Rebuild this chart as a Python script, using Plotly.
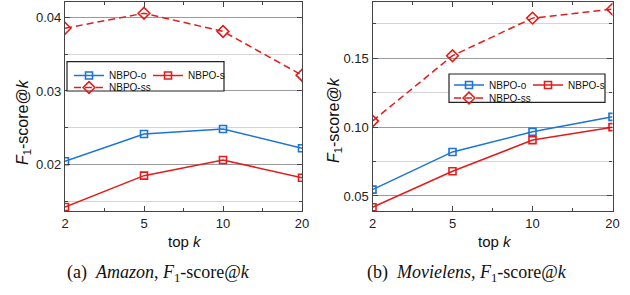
import plotly.graph_objects as go

# ---------------- data ----------------
top_k = ["2", "5", "10", "20"]

amazon_nbpo_o = [0.02044, 0.02415, 0.02483, 0.02220]
amazon_nbpo_s = [0.01422, 0.01848, 0.02061, 0.01820]
amazon_nbpo_ss = [0.03853, 0.04057, 0.03810, 0.03215]

movie_nbpo_o = [0.0546, 0.0820, 0.0966, 0.1075]
movie_nbpo_s = [0.0418, 0.0680, 0.0906, 0.1000]
movie_nbpo_ss = [0.1044, 0.1519, 0.1792, 0.1857]

series_names = ["NBPO-o", "NBPO-s", "NBPO-ss"]

# ---------------- styles ----------------
W, H = 630, 295
BLUE = "#1c74d4"
RED = "#e31c1c"
SANS = "Liberation Sans, Arial, sans-serif"
SERIF = "Liberation Serif, Times New Roman, serif"
FRAME = "#444444"

def px_x(x):
    return x / W

def px_y(y):
    return 1 - y / H

xpos = list(range(len(top_k)))

fig = go.Figure()

styles = [
    dict(color=BLUE, symbol="square-open", size=7, dash="solid", lw=34),
    dict(color=RED, symbol="square-open", size=7, dash="solid", lw=None),
    dict(color=RED, symbol="diamond-open", size=9, dash="7px,4px", lw=None),
]

panels = [
    ("x", "y", [amazon_nbpo_o, amazon_nbpo_s, amazon_nbpo_ss], ("legend", "legend2")),
    ("x2", "y2", [movie_nbpo_o, movie_nbpo_s, movie_nbpo_ss], ("legend3", "legend4")),
]

for xa, ya, vals, (lg_row1, lg_row2) in panels:
    for i, (name, v, st) in enumerate(zip(series_names, vals, styles)):
        kw = {}
        if st["lw"]:
            kw["legendwidth"] = st["lw"]
        fig.add_trace(go.Scatter(
            x=xpos, y=v, name=name, xaxis=xa, yaxis=ya,
            mode="lines+markers",
            line=dict(color=st["color"], width=1.5, dash=st["dash"]),
            marker=dict(symbol=st["symbol"], size=st["size"], color=st["color"],
                        line=dict(color=st["color"], width=1.6)),
            legend=lg_row1 if i < 2 else lg_row2,
            showlegend=True, **kw,
        ))

common_x = dict(
    range=[0, 3], tickvals=xpos, ticktext=top_k,
    ticks="inside", ticklen=5, tickwidth=1, tickcolor=FRAME,
    minor=dict(dtick=0.5, tick0=0, ticks="inside", ticklen=3, tickcolor=FRAME),
    showline=True, linecolor=FRAME, linewidth=1.2, mirror="ticks",
    showgrid=False, zeroline=False, automargin=False,
    tickfont=dict(family=SANS, size=13, color="#222"),
    fixedrange=True,
)

def yaxis(rng, dtick, mdtick):
    return dict(
        range=rng, dtick=dtick, tick0=0, tickformat=".2f",
        ticks="inside", ticklen=5, tickwidth=1, tickcolor=FRAME,
        minor=dict(dtick=mdtick, tick0=0, ticks="inside", ticklen=3, tickcolor=FRAME,
                   showgrid=True, gridcolor="#d4d4d4", gridwidth=1),
        showline=True, linecolor=FRAME, linewidth=1.2, mirror="ticks",
        showgrid=True, gridcolor="#9a9a9a", gridwidth=1,
        zeroline=False, automargin=False,
        tickfont=dict(family=SANS, size=13, color="#222"),
        fixedrange=True,
    )

y_top, y_bot = 2, 211

legend_common = dict(
    orientation="h", xanchor="left", yanchor="top",
    bgcolor="rgba(0,0,0,0)", borderwidth=0,
    font=dict(family=SANS, size=10, color="#111"),
    itemwidth=30, traceorder="normal",
)

fig.update_layout(
    width=W, height=H,
    margin=dict(l=0, r=0, t=0, b=0, pad=0, autoexpand=False),
    paper_bgcolor="white", plot_bgcolor="white",
    xaxis=dict(domain=[px_x(65), px_x(302)], anchor="y", **common_x),
    yaxis=dict(domain=[px_y(y_bot), px_y(y_top)], anchor="x",
               **yaxis([0.01367, 0.0421], 0.01, 0.005)),
    xaxis2=dict(domain=[px_x(372.5), px_x(612.5)], anchor="y2", **common_x),
    yaxis2=dict(domain=[px_y(y_bot), px_y(y_top)], anchor="x2",
                **yaxis([0.0391, 0.1909], 0.05, 0.025)),
    legend=dict(x=px_x(69), y=px_y(61), **legend_common),
    legend2=dict(x=px_x(69), y=px_y(73), **legend_common),
    legend3=dict(x=px_x(449), y=px_y(70.5), **legend_common),
    legend4=dict(x=px_x(449), y=px_y(83.5), **legend_common),
    showlegend=True,
)

# legend frames
for (x0, y0, x1, y1) in [(67, 61.7, 224, 91), (449, 74, 605, 102.3)]:
    fig.add_shape(type="rect", xref="paper", yref="paper",
                  x0=px_x(x0), x1=px_x(x1), y0=px_y(y1), y1=px_y(y0),
                  line=dict(color="#222", width=1.2), fillcolor="white", layer="above")

ytitle = "<i>F</i><sub>1</sub>-score@<i>k</i>"
annos = [
    dict(x=px_x(24), y=px_y(122), text=ytitle, textangle=-90,
         font=dict(family=SANS, size=16, color="#111")),
    dict(x=px_x(334), y=px_y(120), text=ytitle, textangle=-90,
         font=dict(family=SANS, size=16, color="#111")),
    dict(x=px_x(185), y=px_y(241), text="top <i>k</i>",
         font=dict(family=SANS, size=15, color="#111")),
    dict(x=px_x(495), y=px_y(241), text="top <i>k</i>",
         font=dict(family=SANS, size=15, color="#111")),
    dict(x=px_x(158), y=px_y(273),
         text="(a)  <i>Amazon</i>, <i>F</i><sub>1</sub>-score@<i>k</i>",
         font=dict(family=SERIF, size=18, color="#111")),
    dict(x=px_x(467), y=px_y(273),
         text="(b)  <i>Movielens</i>, <i>F</i><sub>1</sub>-score@<i>k</i>",
         font=dict(family=SERIF, size=18, color="#111")),
]
for a in annos:
    fig.add_annotation(xref="paper", yref="paper", showarrow=False,
                       xanchor="center", yanchor="middle", **a)

fig.write_html("out.html", config={"displayModeBar": False},
               post_script="document.body.style.margin='0px';")
